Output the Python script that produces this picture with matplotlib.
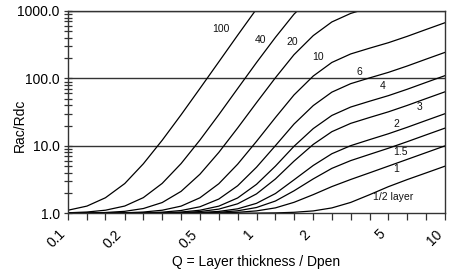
import matplotlib
matplotlib.use("Agg")
import matplotlib.pyplot as plt
from matplotlib.ticker import LogLocator, NullFormatter, NullLocator

# fonts: arial-like
plt.rcParams["font.family"] = ["Liberation Sans", "DejaVu Sans"]

# Q = layer thickness / penetration depth (points on each curve)
q_values = [0.1, 0.126, 0.158, 0.2, 0.251, 0.316, 0.398, 0.501, 0.631, 0.794,
            1.0, 1.26, 1.58, 2.0, 2.51, 3.16, 3.98, 5.01, 6.31, 7.94, 10.0]

# Rac/Rdc, one list per number of layers
half = [1.0, 1.0, 1.0, 1.0, 1.0, 1.0, 1.0, 1.0, 1.001, 1.002, 1.006, 1.014,
        1.035, 1.085, 1.202, 1.450, 1.887, 2.484, 3.167, 3.974, 5.0]
one = [1.0, 1.0, 1.0, 1.0, 1.0, 1.001, 1.002, 1.006, 1.014, 1.035, 1.086, 1.204,
       1.454, 1.892, 2.490, 3.174, 3.984, 5.011, 6.310, 7.943, 10.0]
one_half = [1.0, 1.0, 1.0, 1.0, 1.001, 1.002, 1.006, 1.014, 1.036, 1.089, 1.219,
            1.521, 2.152, 3.238, 4.637, 6.047, 7.478, 9.224, 11.55, 14.56, 18.33]
two = [1.0, 1.0, 1.0, 1.001, 1.002, 1.004, 1.011, 1.027, 1.067, 1.165, 1.406,
       1.964, 3.130, 5.122, 7.643, 10.07, 12.37, 15.12, 18.88, 23.82, 30.0]
three = [1.0, 1.0, 1.001, 1.002, 1.004, 1.010, 1.025, 1.062, 1.154, 1.383, 1.940,
         3.231, 5.925, 10.51, 16.23, 21.56, 26.35, 31.97, 39.84, 50.28, 63.34]
four = [1.0, 1.0, 1.001, 1.003, 1.007, 1.018, 1.044, 1.111, 1.277, 1.688, 2.688,
        5.005, 9.837, 18.04, 28.25, 37.65, 45.92, 55.57, 69.17, 87.33, 110.0]
six = [1.0, 1.001, 1.003, 1.006, 1.016, 1.040, 1.100, 1.250, 1.627, 2.558, 4.823,
       10.07, 21.01, 39.57, 62.60, 83.62, 101.8, 123.0, 153.0, 193.2, 243.4]
ten = [1.001, 1.003, 1.007, 1.018, 1.044, 1.111, 1.278, 1.698, 2.746, 5.344, 11.66,
       26.29, 56.78, 108.5, 172.5, 230.7, 280.8, 338.7, 421.2, 531.9, 670.1]
twenty = [1.004, 1.011, 1.028, 1.070, 1.177, 1.444, 2.115, 3.796, 7.996, 18.40,
          43.70, 102.3, 224.4, 431.5, 687.8, 920.3, 1120.0]
forty = [1.018, 1.045, 1.112, 1.282, 1.708, 2.777, 5.460, 12.19, 28.99, 70.63,
         171.9, 406.4, 895.1, 1723.0]
hundred = [1.111, 1.279, 1.701, 2.761, 5.423, 12.11, 28.88, 70.93, 176.0, 436.3,
           1069.0]

curve_names = ["1/2 layer", "1", "1.5", "2", "3", "4", "6", "10", "20", "40", "100"]
# where the curve labels sit (Q, Rac/Rdc)
label_q = [5.32, 5.5, 5.77, 5.5, 7.36, 4.65, 3.51, 2.13, 1.55, 1.056, 0.646]
label_r = [1.73, 4.54, 8.04, 21.1, 38.2, 77.4, 126, 206, 344, 373, 537]

x_tick_text = {0.1: "0.1", 0.2: "0.2", 0.501: "0.5", 1.0: "1", 2.0: "2",
               5.01: "5", 10.0: "10"}
y_ticks = [1, 10, 100, 1000]
y_tick_text = ["1.0", "10.0", "100.0", "1000.0"]

fig = plt.figure(figsize=(4.5, 2.74), dpi=100)
ax = fig.add_axes([0.1511, 0.2215, 0.8378, 0.7384])

all_curves = [half, one, one_half, two, three, four, six, ten, twenty, forty, hundred]
for vals in all_curves:
    ax.plot(q_values[:len(vals)], vals, color="black", lw=0.9)

for name, q, r in zip(curve_names, label_q, label_r):
    ax.text(q, r, name, fontsize=7.5, ha="center", va="center", color="#111111")

ax.set_xscale("log")
ax.set_yscale("log")
ax.set_xlim(0.1, 10)
ax.set_ylim(1, 1000)

# horizontal grid at the decades
for yv in y_ticks[1:]:
    ax.axhline(yv, color="#333333", lw=1.0, zorder=0)

# x ticks every tenth of a decade, only some labelled
ax.set_xticks(q_values)
ax.set_xticklabels([x_tick_text.get(q, "") for q in q_values], rotation=45,
                   ha="right", fontsize=10)
ax.xaxis.set_minor_locator(NullLocator())
ax.tick_params(axis="x", direction="out", length=5, width=0.9, pad=5,
               color="#333333")

ax.set_yticks(y_ticks)
ax.set_yticklabels(y_tick_text, fontsize=10)
ax.yaxis.set_minor_locator(LogLocator(base=10, subs=range(2, 10)))
ax.yaxis.set_minor_formatter(NullFormatter())
ax.tick_params(axis="y", which="both", direction="inout", length=6, width=0.9,
               pad=3, color="#333333")

for sp in ax.spines.values():
    sp.set_color("#333333")
    sp.set_linewidth(1.0)

ax.set_xlabel("Q = Layer thickness / Dpen", fontsize=10, labelpad=3)
ax.set_ylabel("Rac/Rdc", fontsize=10)
ax.yaxis.set_label_coords(-0.108, 0.436)

fig.savefig("out.png", dpi=100)
